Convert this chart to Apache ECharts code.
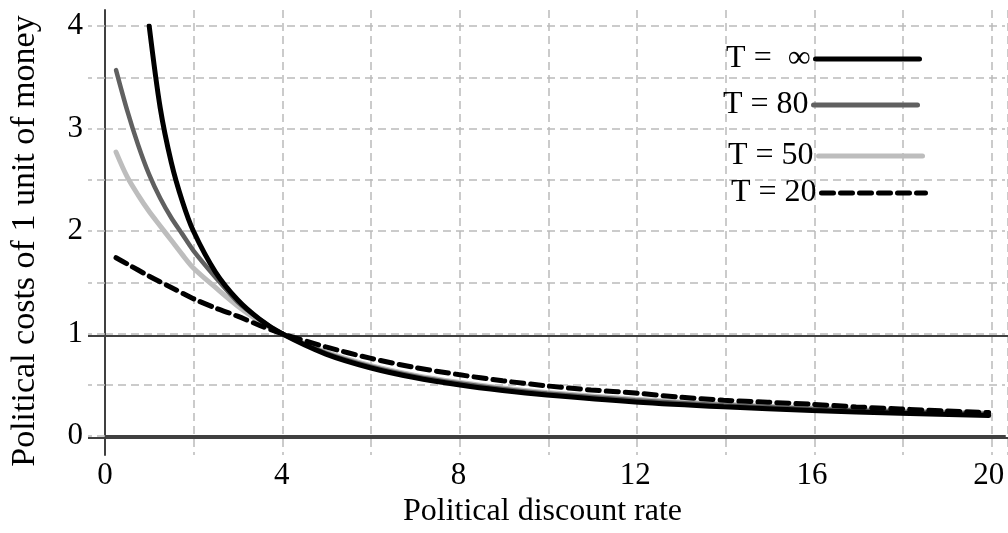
<!DOCTYPE html>
<html>
<head>
<meta charset="utf-8">
<script src="https://cdn.jsdelivr.net/npm/echarts@6/dist/echarts.min.js"></script>
<style>
html,body{margin:0;padding:0;background:#fff;}
#chart{width:1008px;height:533px;}
</style>
</head>
<body>
<div id="chart"></div>
<script>
// ---- data ----
var seriesNames = ['T =  \u221E', 'T = 80', 'T = 50', 'T = 20'];
var xTickLabels = ['0', '4', '8', '12', '16', '20'];
var yTickLabels = ['0', '1', '2', '3', '4'];

var rateInf = [1.0, 1.25, 1.5, 1.75, 2.0, 2.5, 3.0, 3.5, 4.0, 5, 6, 7, 8, 9, 10, 12, 14, 16, 18, 20];
var costInf = [4.0, 3.2, 2.67, 2.29, 2.0, 1.6, 1.33, 1.14, 1.0, 0.8, 0.667, 0.571, 0.5, 0.444, 0.4, 0.333, 0.286, 0.25, 0.222, 0.2];

var rate80 = [0.25, 0.5, 0.75, 1.0, 1.25, 1.5, 1.75, 2.0, 2.5, 3.0, 3.5, 4.0, 5, 6, 7, 8, 9, 10, 12, 14, 16, 18, 20];
var cost80 = [3.57, 3.18, 2.84, 2.55, 2.32, 2.13, 1.97, 1.81, 1.55, 1.31, 1.14, 1.0, 0.81, 0.68, 0.585, 0.515, 0.46, 0.415, 0.35, 0.30, 0.265, 0.237, 0.215];

var rate50 = [0.25, 0.5, 0.75, 1.0, 1.25, 1.5, 1.75, 2.0, 2.5, 3.0, 3.5, 4.0, 5, 6, 7, 8, 9, 10, 12, 14, 16, 18, 20];
var cost50 = [2.77, 2.53, 2.35, 2.19, 2.05, 1.91, 1.77, 1.64, 1.45, 1.27, 1.12, 1.0, 0.82, 0.69, 0.595, 0.525, 0.47, 0.425, 0.36, 0.31, 0.273, 0.245, 0.222];

var rate20 = [0.25, 0.5, 1.0, 1.5, 2.0, 2.5, 3.0, 3.5, 4.0, 5, 6, 7, 8, 9, 10, 11, 12, 13, 14, 15, 16, 17, 18, 19, 20];
var cost20 = [1.74, 1.68, 1.56, 1.45, 1.34, 1.25, 1.17, 1.08, 1.0, 0.87, 0.76, 0.67, 0.60, 0.54, 0.49, 0.45, 0.42, 0.38, 0.35, 0.33, 0.31, 0.285, 0.265, 0.245, 0.23];

function zip(xs, ys) { return xs.map(function (x, i) { return [x, ys[i]]; }); }

var FONT = 'Liberation Serif';
var AX = '#404040';
var GRIDC = '#bbbbbb';
var XMAX = 20.37;

var chart = echarts.init(document.getElementById('chart'), null, {renderer: 'canvas'});

function legendAt(name, right, top) {
  return {
    data: [name], right: right, top: top, orient: 'horizontal', align: 'right',
    itemWidth: 104, itemHeight: 14, padding: 0,
    selectedMode: false,
    itemStyle: {opacity: 0},
    lineStyle: {width: 5},
    textStyle: {fontFamily: FONT, fontSize: 32, color: '#000', lineHeight: 32}
  };
}

chart.setOption({
  animation: false,
  backgroundColor: '#fff',
  grid: [
    {left: 105, right: 0, top: 10, bottom: 78},   // frame: y axis line + vertical dashed grid
    {left: 105, right: 0, top: 26, bottom: 95},   // data grid
    {left: 105, right: 0, top: 336, bottom: 95}   // solid reference lines at 0 and 1
  ],
  legend: [
    legendAt(seriesNames[0], 86, 43),
    legendAt(seriesNames[1], 88, 89),
    legendAt(seriesNames[2], 83, 140),
    legendAt(seriesNames[3], 80, 177)
  ],
  xAxis: [
    {gridIndex: 0, type: 'value', min: 0, max: XMAX, interval: 2,
     axisLine: {show: false}, axisTick: {show: false}, axisLabel: {show: false},
     splitLine: {show: true, lineStyle: {color: GRIDC, width: 1.5, type: [8, 5]}}},
    {gridIndex: 1, type: 'value', min: 0, max: XMAX, interval: 2,
     name: 'Political discount rate', nameLocation: 'middle', nameGap: 54,
     nameTextStyle: {fontFamily: FONT, fontSize: 32, color: '#000', padding: [0, 25, 0, 0]},
     axisLine: {show: true, lineStyle: {color: AX, width: 2}},
     axisTick: {show: false},
     splitLine: {show: false},
     axisLabel: {
       margin: 24, fontFamily: FONT, fontSize: 31, color: '#000',
       formatter: function (v) {
         var s = String(Math.round(v));
         return (Math.abs(v - Math.round(v)) < 1e-6 && xTickLabels.indexOf(s) >= 0) ? s : '';
       }
     }},
    {gridIndex: 2, type: 'value', min: 0, max: XMAX, show: false}
  ],
  yAxis: [
    {gridIndex: 0, type: 'value', min: 0, max: 1,
     axisLine: {show: true, lineStyle: {color: AX, width: 2}},
     axisTick: {show: false}, axisLabel: {show: false}, splitLine: {show: false}},
    {gridIndex: 1, type: 'value', min: 0, max: 4, interval: 0.5,
     name: 'Political costs of 1 unit of money', nameLocation: 'middle', nameGap: 63,
     nameTextStyle: {fontFamily: FONT, fontSize: 34, color: '#000', padding: [0, 20, 0, 0]},
     axisLine: {show: false},
     axisTick: {show: true, length: 17, lineStyle: {color: GRIDC, width: 1.5, type: [8, 5]}},
     splitLine: {show: true, lineStyle: {color: GRIDC, width: 1.5, type: [8, 5]}},
     axisLabel: {
       margin: 22, fontFamily: FONT, fontSize: 31, color: '#000',
       formatter: function (v) {
         var s = String(Math.round(v));
         return (Math.abs(v - Math.round(v)) < 1e-6 && yTickLabels.indexOf(s) >= 0) ? s : '';
       }
     }},
    {gridIndex: 2, type: 'value', min: 0, max: 1, interval: 1, z: 1,
     axisLine: {show: false}, axisLabel: {show: false},
     axisTick: {show: true, length: 17, lineStyle: {color: AX, width: 2}},
     splitLine: {show: true, lineStyle: {color: AX, width: 2}}}
  ],
  series: [
    {name: seriesNames[0], type: 'line', xAxisIndex: 1, yAxisIndex: 1, z: 5,
     data: zip(rateInf, costInf), smooth: 0.3, symbol: 'none',
     lineStyle: {color: '#000', width: 5, cap: 'round'}, itemStyle: {color: '#000'}},
    {name: seriesNames[1], type: 'line', xAxisIndex: 1, yAxisIndex: 1, z: 4,
     data: zip(rate80, cost80), smooth: 0.3, symbol: 'none',
     lineStyle: {color: '#606060', width: 4.5, cap: 'round'}, itemStyle: {color: '#606060'}},
    {name: seriesNames[2], type: 'line', xAxisIndex: 1, yAxisIndex: 1, z: 3,
     data: zip(rate50, cost50), smooth: 0.3, symbol: 'none',
     lineStyle: {color: '#bdbdbd', width: 5, cap: 'round'}, itemStyle: {color: '#bdbdbd'}},
    {name: seriesNames[3], type: 'line', xAxisIndex: 1, yAxisIndex: 1, z: 6,
     data: zip(rate20, cost20), smooth: 0.3, symbol: 'none',
     lineStyle: {color: '#000', width: 5, type: [12, 7], cap: 'round'}, itemStyle: {color: '#000'}}
  ]
});
</script>
</body>
</html>
